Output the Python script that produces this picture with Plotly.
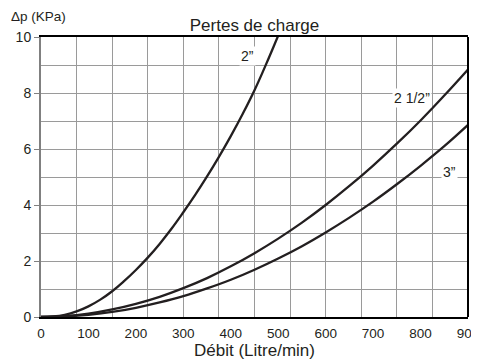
import plotly.graph_objects as go

# Débit (Litre/min)
x_2in = [0, 25, 50, 75, 100, 125, 150, 175, 200, 225, 250, 275, 300, 325, 350, 375, 400, 425, 450, 475, 500, 525]
y_2in = [0, 0.02, 0.08, 0.2, 0.38, 0.62, 0.92, 1.28, 1.68, 2.12, 2.61, 3.15, 3.74, 4.36, 5.02, 5.72, 6.46, 7.25, 8.1, 9.05, 10.05, 11.05]

x_212 = [0, 50, 100, 150, 200, 250, 300, 350, 400, 450, 500, 550, 600, 650, 700, 750, 800, 850, 900]
y_212 = [0, 0.03, 0.12, 0.27, 0.47, 0.72, 1.03, 1.39, 1.81, 2.28, 2.80, 3.37, 4.0, 4.68, 5.41, 6.19, 7.02, 7.91, 8.84]

x_3in = [0, 50, 100, 150, 200, 250, 300, 350, 400, 450, 500, 550, 600, 650, 700, 750, 800, 850, 900]
y_3in = [0, 0.02, 0.08, 0.18, 0.33, 0.52, 0.745, 1.02, 1.33, 1.69, 2.09, 2.53, 3.02, 3.55, 4.12, 4.74, 5.40, 6.10, 6.86]

x_labels = [0, 100, 200, 300, 400, 500, 600, 700, 800, 900]
y_labels = [0, 2, 4, 6, 8, 10]

curve_names = ["2”", "2 1/2”", "3”"]
label_pos = [(436, 9.32), (781, 7.81), (860, 5.19)]

FONT = "Liberation Sans, Arial, sans-serif"
GRID = "#9a9a9a"
LINE = "#231f20"

fig = go.Figure()
for xs, ys, nm in [(x_2in, y_2in, curve_names[0]), (x_212, y_212, curve_names[1]), (x_3in, y_3in, curve_names[2])]:
    fig.add_trace(go.Scatter(x=xs, y=ys, mode="lines", name=nm,
                             line=dict(color=LINE, width=2.3, shape="spline", smoothing=1.2),
                             showlegend=False, hoverinfo="skip"))

for nm, (lx, ly) in zip(curve_names, label_pos):
    fig.add_annotation(x=lx, y=ly, text=nm, showarrow=False, bgcolor="white",
                       font=dict(family=FONT, size=14, color="#231f20"), borderpad=1)

fig.update_layout(
    width=471, height=353,
    margin=dict(l=33, r=11, t=29, b=44, autoexpand=False),
    paper_bgcolor="white", plot_bgcolor="white",
    font=dict(family=FONT, size=14, color="#231f20"),
    title=dict(text="Pertes de charge", xref="paper", x=0.5, xanchor="center",
               yref="container", y=0.952, yanchor="middle",
               font=dict(family=FONT, size=17, color="#231f20")),
    xaxis=dict(range=[0, 900], tickmode="array", tickvals=x_labels, ticks="",
               showgrid=False, zeroline=False, automargin=False,
               showline=True, linecolor="black", linewidth=2, mirror=True,
               ticklabelstandoff=3, ticklabeloverflow="allow",
               tickfont=dict(size=13.5),
               minor=dict(tick0=0, dtick=75, showgrid=True, gridcolor=GRID, gridwidth=1, ticks=""),
               title=dict(text="Débit (Litre/min)", standoff=0, font=dict(size=17))),
    xaxis2=dict(range=[0, 900], overlaying="x", anchor="y", side="bottom", automargin=False,
                tickmode="linear", tick0=0, dtick=150, ticks="outside", ticklen=5,
                tickcolor="black", tickwidth=1, showticklabels=False,
                showgrid=False, zeroline=False, showline=False),
    yaxis=dict(range=[0, 10], tickmode="array", tickvals=y_labels, ticks="outside", ticklen=5,
               tickcolor="#808080", tickwidth=1, showgrid=False, zeroline=False, automargin=False,
               showline=True, linecolor="#808080", linewidth=2,
               minor=dict(tick0=0, dtick=1, showgrid=True, gridcolor=GRID, gridwidth=1, ticks="")),
)

fig.add_shape(type="line", xref="paper", yref="paper", x0=1, x1=1, y0=0, y1=1,
              line=dict(color="black", width=2))

fig.add_annotation(xref="paper", yref="paper", x=-0.075, y=1.0, yshift=21,
                   text="Δp (KPa)", showarrow=False, xanchor="left", yanchor="middle",
                   font=dict(family=FONT, size=13.5, color="#231f20"))

fig.write_html("out.html")
